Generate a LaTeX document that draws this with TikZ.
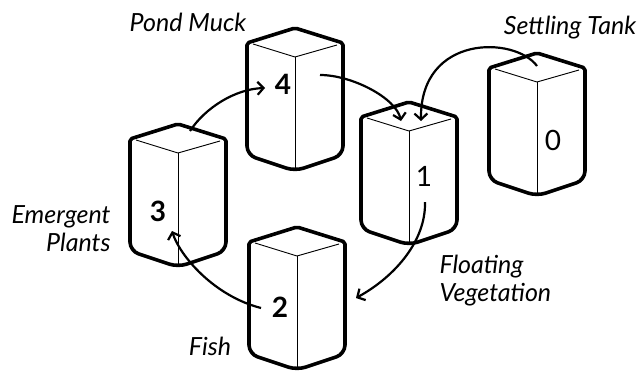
\documentclass[tikz,border=0pt]{standalone}
\usepackage{fontspec}
\setmainfont{Lato}
\usetikzlibrary{arrows.meta,positioning}

\begin{document}
\begin{tikzpicture}[
    x=1pt,y=-1pt,
    outline/.style={line width=3.6pt,line join=round},
    inner/.style={line width=0.9pt},
    arr/.style={line width=2.2pt,-{Straight Barb[length=6pt,width=13pt]}},
    num/.style={font=\fontsize{28}{28}\selectfont\bfseries},
    numlt/.style={font=\fontsize{28}{28}\selectfont},
    lbl/.style={font=\fontsize{25}{28}\selectfont\itshape},
    tank/.pic={
        \draw[outline] (-48,70) [rounded corners=2pt] -- (-48,15) -- (0,0) -- (48,15) -- (48,70)
            [rounded corners=9pt] -- (48,127) -- (0,143) -- (-48,127) -- cycle;
        \draw[inner] (-42,16) -- (0,29) -- (42,17);
        \draw[inner] (0,29) -- (0,140);
    }
]
\useasboundingbox (0,0) rectangle (641,375);

% the five tanks
\pic at (295,28) {tank};
\pic at (409,102) {tank};
\pic at (537,53) {tank};
\pic at (178,124) {tank};
\pic at (297,227) {tank};

\node[num] (n4) at (283,84) {4};
\node[numlt] (n1) at (424,176) {1};
\node[numlt] (n0) at (553,140) {0};
\node[num] (n3) at (158,211) {3};
\node[num] (n2) at (280,307) {2};

\node[lbl] (pond) at (188,22) {Pond Muck};
\node[lbl] (settle) at (570,28) {Settling Tank};
\node[lbl,anchor=east,align=right] (emerg) at (114,229) {Emergent\\Plants};
\node[lbl,anchor=west,align=left] (float) at (436,281) {Floating\\Vegetation};
\node[lbl] (fish) at (210,346) {Fish};

% arrow ends
\coordinate (s34) at (190,131);
\coordinate (e34) at (265,88);
\coordinate (s41) at (320,75);
\coordinate (e41) at (401,121);
\coordinate (s01) at (537,66);
\coordinate (e01) at (421,121);
\coordinate (s12) at (425,202);
\coordinate (e12) at (356,298);
\coordinate (s23) at (261,308);
\coordinate (e23) at (172,231);

\draw[arr] (s34) .. controls (205,108) and (235,89) .. (e34);
\draw[arr] (s41) .. controls (352,75) and (396,98) .. (e41);
\draw[arr] (s01) .. controls (515,36) and (420,34) .. (e01);
\draw[arr] (s12) .. controls (426,240) and (396,276) .. (e12);
\draw[arr] (s23) .. controls (214,296) and (180,256) .. (e23);
\end{tikzpicture}
\end{document}
